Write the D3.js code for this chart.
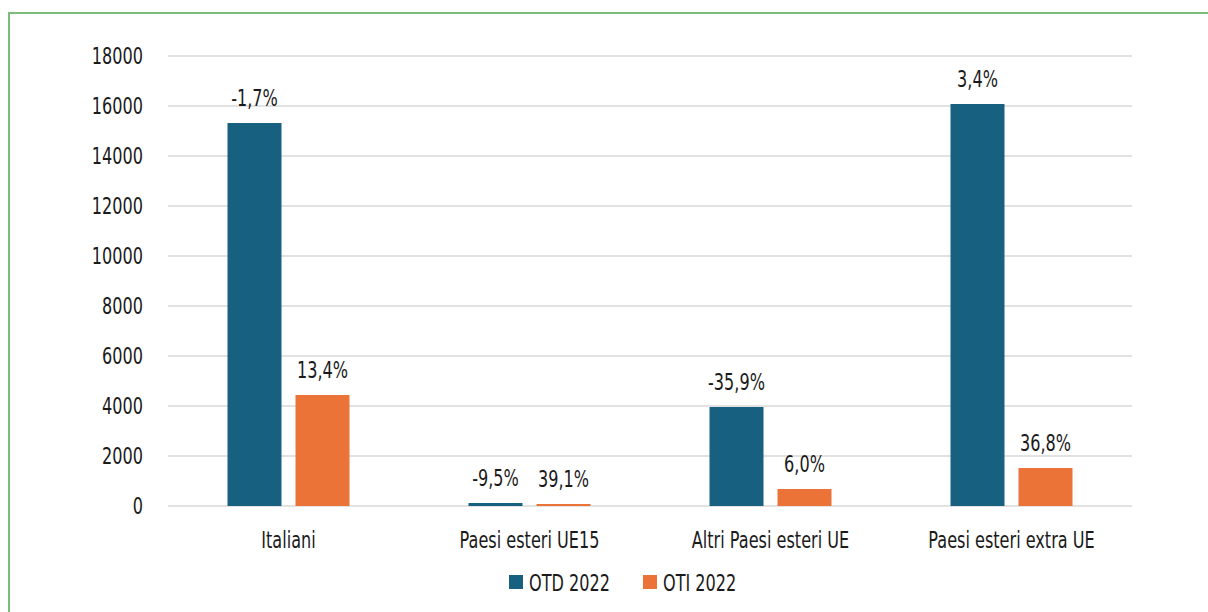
<!DOCTYPE html>
<html>
<head>
<meta charset="utf-8">
<script src="https://cdn.jsdelivr.net/npm/d3@7"></script>
<style>
  body { margin: 0; background: #fff; }
  svg text { font-family: "DejaVu Sans", sans-serif; fill: #1a1a1a; }
</style>
</head>
<body>
<svg id="chart"></svg>
<script>
// dati
const categories = ["Italiani", "Paesi esteri UE15", "Altri Paesi esteri UE", "Paesi esteri extra UE"];
const series = ["OTD 2022", "OTI 2022"];
const otd = [15320, 120, 3960, 16080];
const oti = [4440, 80, 680, 1520];
const otdPct = ["-1,7%", "-9,5%", "-35,9%", "3,4%"];
const otiPct = ["13,4%", "39,1%", "6,0%", "36,8%"];
const yTicks = [0, 2000, 4000, 6000, 8000, 10000, 12000, 14000, 16000, 18000];
const colors = ["#18607f", "#ec7338"];

const W = 1208, H = 612;
const margin = {top: 56, right: 76, bottom: 106, left: 168};
const innerW = W - margin.left - margin.right;
const innerH = H - margin.top - margin.bottom;
const FS = 23;
const SX = 0.7; // carattere condensato: stringo i testi in orizzontale

const svg = d3.select("#chart").attr("width", W).attr("height", H);

// cornice verde
svg.append("rect")
  .attr("x", 9).attr("y", 13)
  .attr("width", W + 20).attr("height", H + 20)
  .attr("fill", "none")
  .attr("stroke", "#7cbd7c")
  .attr("stroke-width", 2);

const chart = svg.append("g").attr("transform", `translate(${margin.left},${margin.top})`);

const yscale = d3.scaleLinear().domain([0, 18000]).range([innerH, 0]);
const x0 = d3.scaleBand().domain(categories).range([0, innerW]);
const x1 = d3.scaleBand().domain(series).range([0, x0.bandwidth()]).paddingInner(0.206).paddingOuter(0.875);

// griglia
chart.append("g")
  .selectAll("line")
  .data(yTicks)
  .join("line")
  .attr("x1", 0).attr("x2", innerW)
  .attr("y1", d => yscale(d)).attr("y2", d => yscale(d))
  .attr("stroke", "#d9d9d9")
  .attr("stroke-width", 1.5);

// asse y
const yaxis = d3.axisLeft(yscale).tickValues(yTicks).tickSize(0).tickPadding(25 / SX).tickFormat(d3.format("d"));
chart.append("g").call(yaxis)
  .call(g => g.select(".domain").remove())
  .selectAll("text")
  .attr("font-size", FS)
  .attr("transform", `scale(${SX},1)`)
  .style("font-family", null);

// asse x
const xaxis = d3.axisBottom(x0).tickSize(0).tickPadding(26);
chart.append("g")
  .attr("transform", `translate(0,${innerH})`)
  .call(xaxis)
  .call(g => g.select(".domain").remove())
  .selectAll("text")
  .attr("font-size", FS)
  .attr("transform", `scale(${SX},1)`)
  .style("font-family", null);

// barre
const rows = categories.map((c, i) => ({
  cat: c,
  vals: [
    {s: series[0], v: otd[i], p: otdPct[i], c: colors[0]},
    {s: series[1], v: oti[i], p: otiPct[i], c: colors[1]}
  ]
}));

const groups = chart.selectAll("g.cat")
  .data(rows)
  .join("g")
  .attr("class", "cat")
  .attr("transform", d => `translate(${x0(d.cat)},0)`);

groups.selectAll("rect")
  .data(d => d.vals)
  .join("rect")
  .attr("x", d => x1(d.s))
  .attr("y", d => yscale(d.v))
  .attr("width", x1.bandwidth())
  .attr("height", d => innerH - yscale(d.v))
  .attr("fill", d => d.c);

groups.selectAll("text.pct")
  .data(d => d.vals)
  .join("text")
  .attr("class", "pct")
  .attr("transform", d => `translate(${x1(d.s) + x1.bandwidth() / 2},${yscale(d.v) - 17}) scale(${SX},1)`)
  .attr("text-anchor", "middle")
  .attr("font-size", FS)
  .text(d => d.p);

// legenda
const legend = svg.append("g").attr("transform", "translate(509,582)");
const items = legend.selectAll("g")
  .data(series)
  .join("g")
  .attr("transform", (d, i) => `translate(${i * 134},0)`);
items.append("rect")
  .attr("x", 0).attr("y", -7)
  .attr("width", 14).attr("height", 14)
  .attr("fill", (d, i) => colors[i]);
items.append("text")
  .attr("transform", `translate(20,8.5) scale(${SX},1)`)
  .attr("font-size", FS)
  .text(d => d);
</script>
</body>
</html>
